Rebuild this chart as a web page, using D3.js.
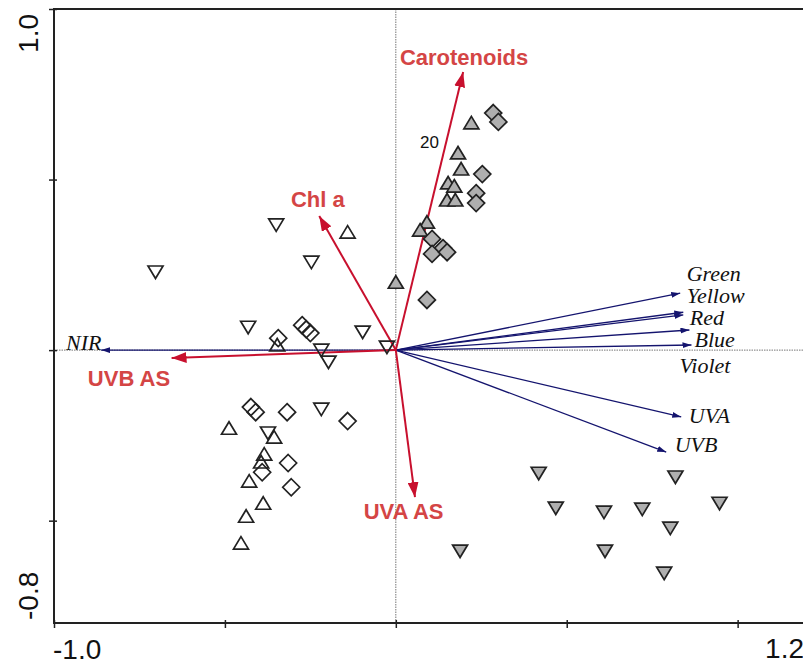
<!DOCTYPE html>
<html>
  <head>
    <title>RDA biplot</title>
    <script src="https://d3js.org/d3.v7.min.js"></script>
    <style>
      body { margin: 0; background: #fff; }
      .axis .domain { display: none; }
      .axis .tick line { stroke: #222; stroke-width: 1.5px; }
      .zero { stroke: #777; stroke-width: 1px; stroke-dasharray: 1.5,1; }
      .frame { stroke: #222; stroke-width: 2px; }
      .envLabel { font-family: "Liberation Sans", Arial, sans-serif; font-weight: bold; font-size: 22px; fill: #d44545; }
      .specLabel { font-family: "Liberation Serif", "Times New Roman", serif; font-style: italic; font-size: 22px; fill: #111; }
      .axisLabel { font-family: "Liberation Sans", Arial, sans-serif; font-size: 28px; fill: #111; }
      .sample { stroke: #222; stroke-width: 1.7px; }
    </style>
  </head>
  <body>
    <svg width="803" height="664"></svg>
    <script>
      // samples: [axis1, axis2]
      const greyDiamonds = [[0.285,0.695],[0.300,0.669],[0.253,0.516],[0.235,0.460],[0.235,0.431],
        [0.106,0.326],[0.138,0.299],[0.106,0.282],[0.150,0.287],[0.091,0.147]];
      const greyUp = [[0.221,0.666],[0.182,0.578],[0.191,0.531],[0.153,0.490],[0.171,0.481],
        [0.150,0.440],[0.174,0.440],[0.091,0.375],[0.071,0.352],[0.0,0.199]];
      const greyDown = [[0.418,-0.361],[0.818,-0.372],[0.947,-0.449],[0.468,-0.463],[0.609,-0.475],
        [0.721,-0.466],[0.803,-0.522],[0.188,-0.589],[0.612,-0.589],[0.785,-0.654]];
      const openDown = [[-0.703,0.229],[-0.350,0.367],[-0.247,0.258],[-0.432,0.067],[-0.097,0.053],
        [-0.026,0.009],[-0.218,0.0],[-0.197,-0.035],[-0.218,-0.173],[-0.374,-0.243]];
      const openUp = [[-0.141,0.346],[-0.347,0.015],[-0.488,-0.229],[-0.356,-0.255],[-0.385,-0.305],
        [-0.394,-0.328],[-0.429,-0.384],[-0.388,-0.449],[-0.438,-0.487],[-0.453,-0.566]];
      const openDiamonds = [[-0.344,0.035],[-0.274,0.073],[-0.262,0.061],[-0.250,0.050],[-0.424,-0.167],
        [-0.410,-0.182],[-0.318,-0.182],[-0.141,-0.208],[-0.315,-0.331],[-0.391,-0.358],[-0.306,-0.402]];

      // explanatory variables (red) and response variables (blue)
      const envNames = ["Carotenoids", "Chl a", "UVB AS", "UVA AS"];
      const envArrows = [[0.197,0.815],[-0.224,0.393],[-0.656,-0.023],[0.056,-0.431]];
      const envLabelAt = [[0.012,0.836],[-0.307,0.419],[-0.901,-0.106],[-0.094,-0.496]];

      const specNames = ["NIR", "Green", "Yellow", "Red", "Blue", "Violet", "UVA", "UVB"];
      const specArrows = [[-0.862,0.0],[0.832,0.167],[0.841,0.111],[0.841,0.103],[0.859,0.059],
        [0.865,0.015],[0.835,-0.196],[0.791,-0.299]];
      const specLabelAt = [[-0.965,0.0],[0.851,0.202],[0.851,0.138],[0.860,0.073],[0.874,0.009],
        [0.830,-0.067],[0.857,-0.214],[0.816,-0.299]];

      const sampleLabels = [{text: "20", at: [0.071, 0.592]}];
      const xTicks = [-1.0, -0.5, 0, 0.5, 1.0];
      const yTicks = [-0.5, 0, 0.5, 1.0];
      const xDomain = [-1.0, 1.2];
      const yDomain = [-0.8, 1.0];

      const svg = d3.select("svg");
      const x = d3.scaleLinear().domain(xDomain).range([54, 806]);
      const y = d3.scaleLinear().domain(yDomain).range([623, 9]);

      const defs = svg.append("defs");
      defs.append("clipPath").attr("id", "plot")
        .append("rect").attr("x", x(xDomain[0])).attr("y", y(yDomain[1]))
        .attr("width", x(xDomain[1]) - x(xDomain[0])).attr("height", y(yDomain[0]) - y(yDomain[1]));
      function marker(id, len, half, color){
        defs.append("marker").attr("id", id)
          .attr("markerUnits", "userSpaceOnUse")
          .attr("viewBox", `0 ${-half} ${len} ${2 * half}`)
          .attr("refX", len).attr("refY", 0)
          .attr("markerWidth", len).attr("markerHeight", 2 * half)
          .attr("orient", "auto")
          .append("path").attr("d", `M0,${-half}L${len},0L0,${half}Z`).attr("fill", color);
      }
      marker("redHead", 15, 5.5, "#c8102e");
      marker("blueHead", 9, 3, "#14146e");

      const plot = svg.append("g").attr("clip-path", "url(#plot)");

      // zero lines
      plot.append("line").attr("class", "zero")
        .attr("x1", x(0)).attr("x2", x(0)).attr("y1", y(yDomain[1])).attr("y2", y(yDomain[0]));
      plot.append("line").attr("class", "zero")
        .attr("x1", x(xDomain[0])).attr("x2", x(xDomain[1])).attr("y1", y(0)).attr("y2", y(0));

      // frame
      svg.append("line").attr("class", "frame")
        .attr("x1", x(xDomain[0])).attr("x2", x(xDomain[0])).attr("y1", y(yDomain[1])).attr("y2", y(yDomain[0]));
      svg.append("line").attr("class", "frame")
        .attr("x1", x(xDomain[0]) - 1).attr("x2", x(xDomain[1])).attr("y1", y(yDomain[1])).attr("y2", y(yDomain[1]));
      svg.append("line").attr("class", "frame")
        .attr("x1", x(xDomain[0]) - 1).attr("x2", x(xDomain[1])).attr("y1", y(yDomain[0])).attr("y2", y(yDomain[0]));

      const xAxisG = svg.append("g").attr("class", "axis")
        .attr("transform", `translate(0, ${y(yDomain[0])})`)
        .call(d3.axisBottom(x).tickValues(xTicks).tickSize(5).tickFormat(""));
      xAxisG.selectAll(".tick line").attr("y1", -3);
      const yAxisG = svg.append("g").attr("class", "axis")
        .attr("transform", `translate(${x(xDomain[0])}, 0)`)
        .call(d3.axisLeft(y).tickValues(yTicks).tickSize(5).tickFormat(""));
      yAxisG.selectAll(".tick line").attr("x1", 3);

      svg.append("text").attr("class", "axisLabel")
        .attr("x", 53).attr("y", 659).text(xDomain[0].toFixed(1));
      svg.append("text").attr("class", "axisLabel").attr("text-anchor", "end")
        .attr("x", 804).attr("y", 658).text(xDomain[1].toFixed(1));
      svg.append("text").attr("class", "axisLabel").attr("text-anchor", "end")
        .attr("transform", "translate(38, 14) rotate(-90)").text(yDomain[1].toFixed(1));
      svg.append("text").attr("class", "axisLabel").attr("text-anchor", "start")
        .attr("transform", "translate(38, 620) rotate(-90)").text(yDomain[0].toFixed(1));

      // blue arrows
      plot.selectAll(".spec").data(specArrows).enter().append("line")
        .attr("x1", x(0)).attr("y1", y(0))
        .attr("x2", d => x(d[0])).attr("y2", d => y(d[1]))
        .attr("stroke", "#14146e").attr("stroke-width", 1.3)
        .attr("marker-end", "url(#blueHead)");

      // red arrows
      plot.selectAll(".env").data(envArrows).enter().append("line")
        .attr("x1", x(0)).attr("y1", y(0))
        .attr("x2", d => x(d[0])).attr("y2", d => y(d[1]))
        .attr("stroke", "#c8102e").attr("stroke-width", 2)
        .attr("marker-end", "url(#redHead)");

      // samples
      const tri = "M0,-6.5L7.5,6L-7.5,6Z";
      const triDown = "M0,6.5L7.5,-6L-7.5,-6Z";
      const dia = "M0,-8.5L8.5,0L0,8.5L-8.5,0Z";
      function drawSamples(data, path, fill){
        plot.append("g").selectAll("path").data(data).enter().append("path")
          .attr("class", "sample")
          .attr("d", path).attr("fill", fill)
          .attr("transform", d => `translate(${x(d[0])}, ${y(d[1])})`);
      }
      drawSamples(openDown, triDown, "none");
      drawSamples(openUp, tri, "none");
      drawSamples(openDiamonds, dia, "none");
      drawSamples(greyDown, triDown, "#afafaf");
      drawSamples(greyUp, tri, "#afafaf");
      drawSamples(greyDiamonds, dia, "#afafaf");

      plot.selectAll(".sLabel").data(sampleLabels).enter().append("text")
        .attr("x", d => x(d.at[0])).attr("y", d => y(d.at[1]))
        .attr("font-family", "Liberation Sans, Arial, sans-serif").attr("font-size", 17)
        .attr("fill", "#111").text(d => d.text);

      plot.selectAll(".envLabel").data(envNames).enter().append("text")
        .attr("class", "envLabel")
        .attr("x", (d, i) => x(envLabelAt[i][0])).attr("y", (d, i) => y(envLabelAt[i][1]))
        .text(d => d);
      plot.selectAll(".specLabel").data(specNames).enter().append("text")
        .attr("class", "specLabel")
        .attr("x", (d, i) => x(specLabelAt[i][0])).attr("y", (d, i) => y(specLabelAt[i][1]))
        .text(d => d);
    </script>
  </body>
</html>
